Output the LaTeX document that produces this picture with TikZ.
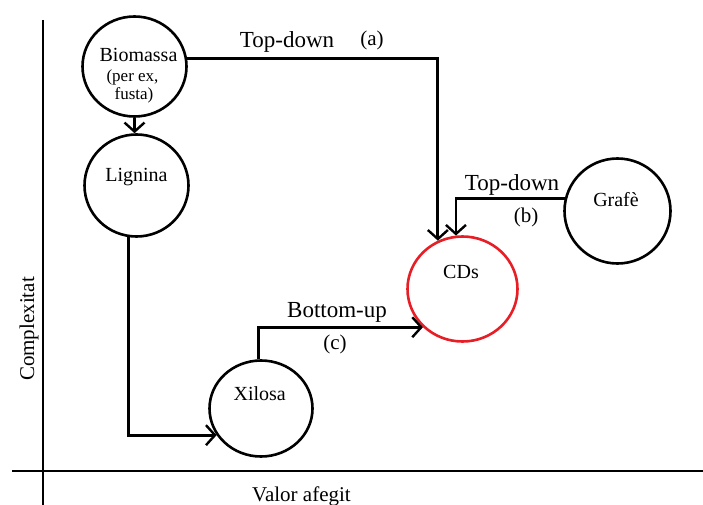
\documentclass[tikz,border=0pt]{standalone}
\usepackage{fontspec}
\setmainfont{Liberation Serif}
\usetikzlibrary{arrows.meta,shapes.geometric}
\definecolor{cdred}{RGB}{232,30,38}
\begin{document}
\begin{tikzpicture}[x=1pt,y=-1pt,
  blob/.style={ellipse,draw,line width=2.6pt,inner sep=0pt},
  flow/.style={line width=2.8pt,line join=miter,
    -{Straight Barb[length=9pt,width=20pt,line width=2.4pt]}},
  axis/.style={line width=1.4pt},
  lbl/.style={anchor=base,inner sep=0pt,font=\fontsize{23}{27}\selectfont},
  inner/.style={anchor=base,inner sep=0pt,font=\fontsize{20}{24}\selectfont},
  small/.style={anchor=base,inner sep=0pt,font=\fontsize{17}{20}\selectfont}]
\useasboundingbox (0,0) rectangle (703,505);

% axes
\coordinate (ytop) at (43,20);
\coordinate (ybot) at (43,505);
\coordinate (xleft) at (12,471);
\coordinate (xright) at (703,471);
\draw[axis] (ytop) -- (ybot);
\draw[axis] (xleft) -- (xright);
\node[inner,rotate=90,font=\fontsize{21}{24}\selectfont] (ylab) at (34,329) {Complexitat};
\node[inner,font=\fontsize{21}{24}\selectfont] (xlab) at (301.5,501) {Valor afegit};

% circles
\node[blob,minimum width=104pt,minimum height=100pt] (bio) at (134.5,66.5) {};
\node[blob,minimum width=104pt,minimum height=102pt] (lig) at (136.5,185.5) {};
\node[blob,minimum width=103pt,minimum height=96pt] (xil) at (261,408.5) {};
\node[blob,draw=cdred,minimum width=110pt,minimum height=105pt] (cds) at (462.5,289) {};
\node[blob,minimum width=106pt,minimum height=105pt] (graf) at (617.5,211) {};

% texts inside circles
\node[inner] (biot) at (138.5,62) {Biomassa};
\node[small] (biot2) at (132.5,82) {(per ex,};
\node[small] (biot3) at (134,100) {fusta)};
\node[inner] (ligt) at (136.5,182) {Lignina};
\node[inner] (xilt) at (259.7,400.5) {Xilosa};
\node[inner] (cdst) at (461,278) {CDs};
\node[inner] (graft) at (616,206) {Grafè};

% connectors
\draw[flow] (bio.south) -- (bio.south |- lig.north);
\draw[flow] (bio.9) -| (cds.117);
\draw[flow] (graf.167) -| (cds.97);
\draw[flow] (lig.261) |- (xil.211);
\draw[flow] (xil.93) |- (cds.224);

% connector labels
\node[lbl] (tda) at (287,48) {Top-down};
\node[lbl,font=\fontsize{21}{24}\selectfont] (tdan) at (372,46) {(a)};
\node[lbl] (tdb) at (512,190) {Top-down};
\node[lbl,font=\fontsize{21}{24}\selectfont] (tdbn) at (526,222) {(b)};
\node[lbl] (bu) at (337,317) {Bottom-up};
\node[lbl,font=\fontsize{21}{24}\selectfont] (bun) at (335,349) {(c)};
\end{tikzpicture}
\end{document}
